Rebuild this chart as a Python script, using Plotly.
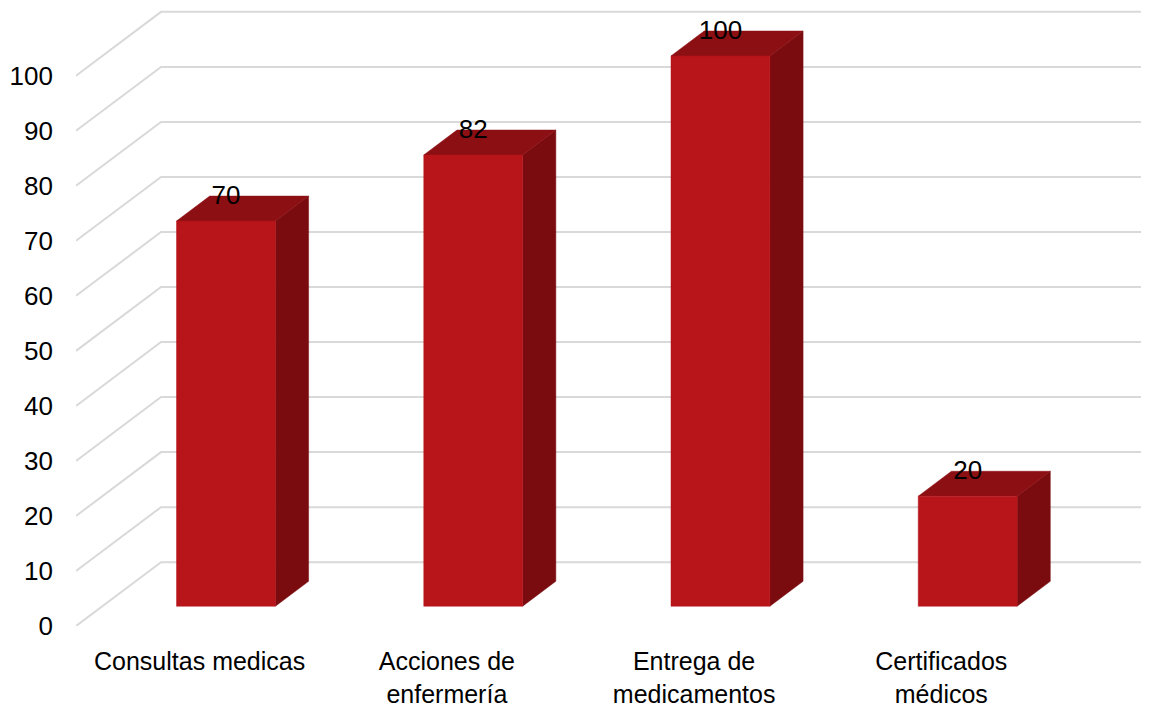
import plotly.graph_objects as go

categories = [
    "Consultas medicas",
    "Acciones de<br>enfermería",
    "Entrega de<br>medicamentos",
    "Certificados<br>médicos",
]
values = [70, 82, 100, 20]
y_ticks = [0, 10, 20, 30, 40, 50, 60, 70, 80, 90, 100]

# pseudo-3D geometry, in data units
DEPTH_X = 0.344      # back wall shift along x
DEPTH_Y = 11.6       # back wall shift along y
BAR_Z = (0.31, 0.70)  # front / back depth of the bars (0 = front, 1 = wall)
BAR_W = 0.40
X_MAX = 3.84

FRONT = "#B7151A"
TOP = "#8C0F13"
SIDE = "#7A0C10"
GRID = "#D9D9D9"
FONT = "Liberation Sans, Arial, sans-serif"

fig = go.Figure()

# gridlines: diagonal on the left floor edge + horizontal on the back wall
gx, gy = [], []
for v in y_ticks:
    gx += [-0.5, -0.5 + DEPTH_X, X_MAX + 1, None]
    gy += [v, v + DEPTH_Y, v + DEPTH_Y, None]
fig.add_trace(go.Scatter(x=gx, y=gy, mode="lines",
                         line=dict(color=GRID, width=2), hoverinfo="skip"))

z0, z1 = BAR_Z
dx = (z1 - z0) * DEPTH_X
dy = (z1 - z0) * DEPTH_Y
faces = {"side": ([], []), "top": ([], []), "front": ([], [])}
for i, v in enumerate(values):
    x0 = i - BAR_W / 2 + z0 * DEPTH_X
    x1 = x0 + BAR_W
    y0 = z0 * DEPTH_Y
    y1 = y0 + v
    pts = {
        "front": [(x0, y0), (x1, y0), (x1, y1), (x0, y1)],
        "top": [(x0, y1), (x1, y1), (x1 + dx, y1 + dy), (x0 + dx, y1 + dy)],
        "side": [(x1, y0), (x1 + dx, y0 + dy), (x1 + dx, y1 + dy), (x1, y1)],
    }
    for k, poly in pts.items():
        fx, fy = faces[k]
        fx += [p[0] for p in poly] + [poly[0][0], None]
        fy += [p[1] for p in poly] + [poly[0][1], None]

for k, col in [("side", SIDE), ("top", TOP), ("front", FRONT)]:
    fx, fy = faces[k]
    fig.add_trace(go.Scatter(x=fx, y=fy, mode="lines", fill="toself",
                             fillcolor=col, line=dict(color=col, width=0.5),
                             hoverinfo="skip"))

# data labels
fig.add_trace(go.Scatter(
    x=[i + z0 * DEPTH_X for i in range(len(values))],
    y=[v + z1 * DEPTH_Y - 0.25 for v in values],
    mode="text",
    text=[str(v) for v in values],
    textposition="middle center",
    textfont=dict(size=26, color="#000000", family=FONT),
    hoverinfo="skip",
    cliponaxis=False,
))

# page body has an 8px margin, so the figure is 8px smaller than the window
fig.update_layout(
    width=1141,
    height=700,
    showlegend=False,
    paper_bgcolor="white",
    plot_bgcolor="white",
    font=dict(family=FONT, color="#000000"),
    margin=dict(l=68, r=0, t=0, b=80),
    xaxis=dict(
        range=[-0.5, X_MAX],
        tickvals=list(range(len(categories))),
        ticktext=categories,
        tickfont=dict(size=25),
        showgrid=False, zeroline=False, showline=False,
        ticks="", ticklabelstandoff=18,
    ),
    yaxis=dict(
        range=[0, 112.3],
        tickvals=y_ticks,
        tickfont=dict(size=26),
        showgrid=False, zeroline=False, showline=False,
        ticks="", ticklabelstandoff=22,
    ),
)

fig.write_html("out.html")
